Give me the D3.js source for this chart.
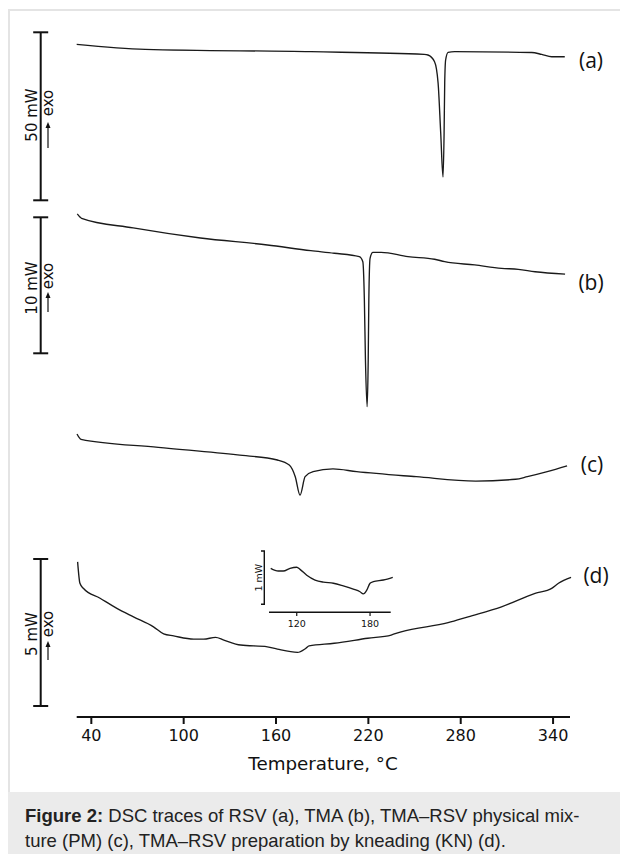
<!DOCTYPE html>
<meta charset="utf-8">
<style>
body {
  margin: 0;
  background: #fff;
}
.trace {
  fill: none;
  stroke: #1a1a1a;
  stroke-width: 1.35;
}
.bar {
  stroke: #111;
  stroke-width: 2;
  fill: none;
}
.tick-label {
  font-family: "DejaVu Sans";
  font-size: 16px;
  fill: #111;
}
.caption {
  font-family: "Liberation Sans", Arial;
  font-size: 18.5px;
  fill: #222;
}
</style>
<body>
<script src="https://cdn.jsdelivr.net/npm/d3@7"></script>
<script>

// DSC traces, temperature (°C) and heat flow (mW, relative, exo up)
var tempA = [30.5, 75, 182.6, 256.3, 258.7, 263.0, 265.3, 267.0, 268.5, 269.2, 269.6, 270.2, 271.8, 276.1, 326.1, 332.6, 339.1, 347.6];
var flowA = [0, -1.5, -2.2, -3.0, -3.18, -5.18, -11.5, -26.4, -39.5, -26.4, -11.5, -4.67, -2.38, -2.2, -2.44, -3.0, -3.7, -3.7];

var tempB = [30.9, 33.7, 67.2, 110.9, 154.4, 182.6, 197.8, 214.1, 216.4, 217.4, 218.1, 219.2, 219.9, 220.3, 221.1, 222.9, 228.3, 245.7, 263.0, 269.6, 289.1, 306.5, 317.4, 328.3, 347.8];
var flowB = [0.32, 0, -0.71, -1.45, -1.96, -2.38, -2.57, -2.82, -3.19, -6.0, -10.4, -13.85, -10.4, -6.0, -2.94, -2.5, -2.5, -2.82, -3.01, -3.19, -3.43, -3.68, -3.75, -3.93, -4.10];

var tempC = [30.7, 33.3, 83.5, 135.0, 160.9, 168.6, 172.5, 175.6, 178.9, 184.1, 197.0, 212.4, 251.1, 289.8, 315.6, 323.3, 336.2, 349.1];
var flowC = [0.39, 0, -0.59, -1.15, -1.52, -1.89, -2.75, -4.10, -2.75, -2.38, -2.18, -2.38, -2.75, -3.07, -2.94, -2.75, -2.38, -1.96];

var tempD = [31.1, 32.6, 34.8, 45.7, 56.6, 67.4, 80.4, 87.0, 93.5, 106.5, 113.0, 120.7, 126.1, 137.0, 154.4, 160.9, 174.0, 179.4, 181.5, 197.8, 219.6, 234.8, 241.3, 271.8, 284.8, 306.5, 328.3, 339.1, 343.5, 351.7];
var flowD = [0.73, 0, -0.17, -0.51, -0.85, -1.14, -1.48, -1.72, -1.79, -1.90, -1.90, -1.84, -1.93, -2.10, -2.16, -2.24, -2.35, -2.21, -2.13, -2.04, -1.87, -1.76, -1.65, -1.34, -1.14, -0.80, -0.34, -0.17, 0, 0.20];

// inset of (d), zoomed 100-195 °C
var tempInset = [98.7, 104.9, 109.0, 114.5, 120, 122.7, 128.2, 135.0, 141.8, 150.0, 158.1, 166.3, 171.8, 174.5, 177.3, 180.0, 182.7, 190.9, 198.6];
var flowInset = [0, -0.05, -0.05, 0, 0.02, -0.02, -0.13, -0.22, -0.26, -0.28, -0.33, -0.39, -0.44, -0.48, -0.41, -0.28, -0.25, -0.22, -0.17];

var traceLabels = ["(a)", "(b)", "(c)", "(d)"];
var scaleBarLabels = ["50 mW", "10 mW", null, "5 mW"];
var scaleBarValues = [50, 10, null, 5];
var xTicks = [40, 100, 160, 220, 280, 340];
var insetTicks = [120, 180];

var width = 620,
    height = 854;

var svg = d3.select("body").append("svg")
    .attr("width", width)
    .attr("height", height);

// page frame + caption band
svg.append("rect")
    .attr("x", 9).attr("y", 10)
    .attr("width", width).attr("height", height)
    .attr("fill", "none")
    .attr("stroke", "#e4e4e4")
    .attr("stroke-width", 2);

svg.append("rect")
    .attr("x", 8).attr("y", 792)
    .attr("width", width).attr("height", 62)
    .attr("fill", "#ebebeb");

var x = d3.scaleLinear()
    .domain([30.5, 351])
    .range([76.7, 570]);

// layout of each trace: pixel of 0 mW, px per mW, scale bar, text spots
var panels = [
  {temp: tempA, flow: flowA, y0: 44.3, k: 168 / 50, barTop: 32.3, labelX: 591, labelY: 60,
   unitY: 115, exoY: 103, arrow: [148, 122]},
  {temp: tempB, flow: flowB, y0: 218.3, k: 136 / 10, barTop: 217.3, labelX: 591, labelY: 282,
   unitY: 288, exoY: 276, arrow: [312, 292]},
  {temp: tempC, flow: flowC, y0: 439.3, k: 13.6, barTop: null, labelX: 592, labelY: 464},
  {temp: tempD, flow: flowD, y0: 583.3, k: 147 / 5, barTop: 559, labelX: 596, labelY: 575,
   unitY: 634, exoY: 624, arrow: [660, 641]}
];

var line = d3.line().curve(d3.curveMonotoneX);

panels.forEach(function(p, i) {
  var y = d3.scaleLinear().domain([0, -1]).range([p.y0, p.y0 + p.k]);
  var pts = p.temp.map(function(t, j) { return [x(t), y(p.flow[j])]; });

  svg.append("path")
      .attr("class", "trace")
      .attr("d", line(pts));

  svg.append("text")
      .attr("x", p.labelX)
      .attr("y", p.labelY)
      .attr("text-anchor", "middle")
      .attr("dominant-baseline", "central")
      .style("font-family", "Open Sans")
      .style("font-size", "21px")
      .attr("fill", "#111")
      .text(traceLabels[i]);

  if (p.barTop === null) return;

  var len = scaleBarValues[i] * p.k,
      bx = 40.7,
      g = svg.append("g");

  g.append("line").attr("class", "bar")
      .attr("x1", bx).attr("x2", bx)
      .attr("y1", p.barTop).attr("y2", p.barTop + len);
  [p.barTop, p.barTop + len].forEach(function(yy) {
    g.append("line").attr("class", "bar")
        .attr("x1", bx - 7.5).attr("x2", bx + 7.5)
        .attr("y1", yy).attr("y2", yy);
  });

  g.append("text")
      .attr("transform", "translate(31.5," + p.unitY + ") rotate(-90)")
      .attr("text-anchor", "middle")
      .attr("dominant-baseline", "central")
      .style("font-family", "DejaVu Sans")
      .style("font-size", "15px")
      .attr("fill", "#111")
      .text(scaleBarLabels[i]);

  g.append("text")
      .attr("transform", "translate(48," + p.exoY + ") rotate(-90)")
      .attr("text-anchor", "middle")
      .attr("dominant-baseline", "central")
      .style("font-family", "DejaVu Sans")
      .style("font-size", "15px")
      .attr("fill", "#111")
      .text("exo");

  g.append("line")
      .attr("x1", 48).attr("x2", 48)
      .attr("y1", p.arrow[0]).attr("y2", p.arrow[1] + 4)
      .attr("stroke", "#111").attr("stroke-width", 1.2);
  g.append("path")
      .attr("d", "M48," + p.arrow[1] + "l-2.5,6h5z")
      .attr("fill", "#111");
});

// x axis
var axis = svg.append("g").attr("transform", "translate(0,717)");
axis.append("line")
    .attr("x1", 76.7).attr("x2", 570)
    .attr("stroke", "#111").attr("stroke-width", 2.2);
axis.selectAll(".tk")
    .data(xTicks)
  .enter().append("line")
    .attr("x1", function(d) { return x(d); })
    .attr("x2", function(d) { return x(d); })
    .attr("y1", 0).attr("y2", 7)
    .attr("stroke", "#111").attr("stroke-width", 2);
axis.selectAll(".tick-label")
    .data(xTicks)
  .enter().append("text")
    .attr("class", "tick-label")
    .attr("x", function(d) { return x(d); })
    .attr("y", 18)
    .attr("text-anchor", "middle")
    .attr("dominant-baseline", "central")
    .text(function(d) { return d; });

svg.append("text")
    .attr("x", 323)
    .attr("y", 763)
    .attr("text-anchor", "middle")
    .attr("dominant-baseline", "central")
    .style("font-family", "DejaVu Sans")
    .style("font-size", "18.3px")
    .attr("fill", "#111")
    .text("Temperature, °C");

// inset
var xi = d3.scaleLinear().domain([97.3, 196.9]).range([269, 390.7]);
var yi = d3.scaleLinear().domain([0, -1]).range([568.3, 568.3 + 53.3]);
var inset = svg.append("g");

inset.append("path")
    .attr("class", "trace")
    .attr("stroke-width", 1.1)
    .attr("d", line(tempInset.map(function(t, j) { return [xi(t), yi(flowInset[j])]; })));

inset.append("line")
    .attr("x1", 269).attr("x2", 390.7)
    .attr("y1", 612.3).attr("y2", 612.3)
    .attr("stroke", "#111").attr("stroke-width", 1.4);
inset.selectAll(".itk")
    .data(insetTicks)
  .enter().append("line")
    .attr("x1", function(d) { return xi(d); })
    .attr("x2", function(d) { return xi(d); })
    .attr("y1", 612.3).attr("y2", 616)
    .attr("stroke", "#111").attr("stroke-width", 1.2);
inset.selectAll(".itl")
    .data(insetTicks)
  .enter().append("text")
    .attr("x", function(d) { return xi(d); })
    .attr("y", 623)
    .attr("text-anchor", "middle")
    .attr("dominant-baseline", "central")
    .style("font-family", "DejaVu Sans")
    .style("font-size", "9.5px")
    .attr("fill", "#111")
    .text(function(d) { return d; });

var ibTop = yi(0) - 17.3, ibLen = yi(-1) - yi(0);
inset.append("path")
    .attr("d", "M261," + ibTop + "H264.3V" + (ibTop + ibLen) + "H261")
    .attr("fill", "none").attr("stroke", "#111").attr("stroke-width", 1.4);
inset.append("text")
    .attr("transform", "translate(258," + (ibTop + ibLen / 2) + ") rotate(-90)")
    .attr("text-anchor", "middle")
    .attr("dominant-baseline", "central")
    .style("font-family", "DejaVu Sans")
    .style("font-size", "9.5px")
    .attr("fill", "#111")
    .text("1 mW");

// caption
var cap = svg.append("text").attr("class", "caption").attr("x", 25).attr("y", 821.5);
cap.append("tspan").style("font-weight", "bold").text("Figure 2:");
cap.append("tspan").text(" DSC traces of RSV (a), TMA (b), TMA\u2013RSV physical mix-");
svg.append("text").attr("class", "caption").attr("x", 25).attr("y", 846.5)
    .text("ture (PM) (c), TMA\u2013RSV preparation by kneading (KN) (d).");

</script>
